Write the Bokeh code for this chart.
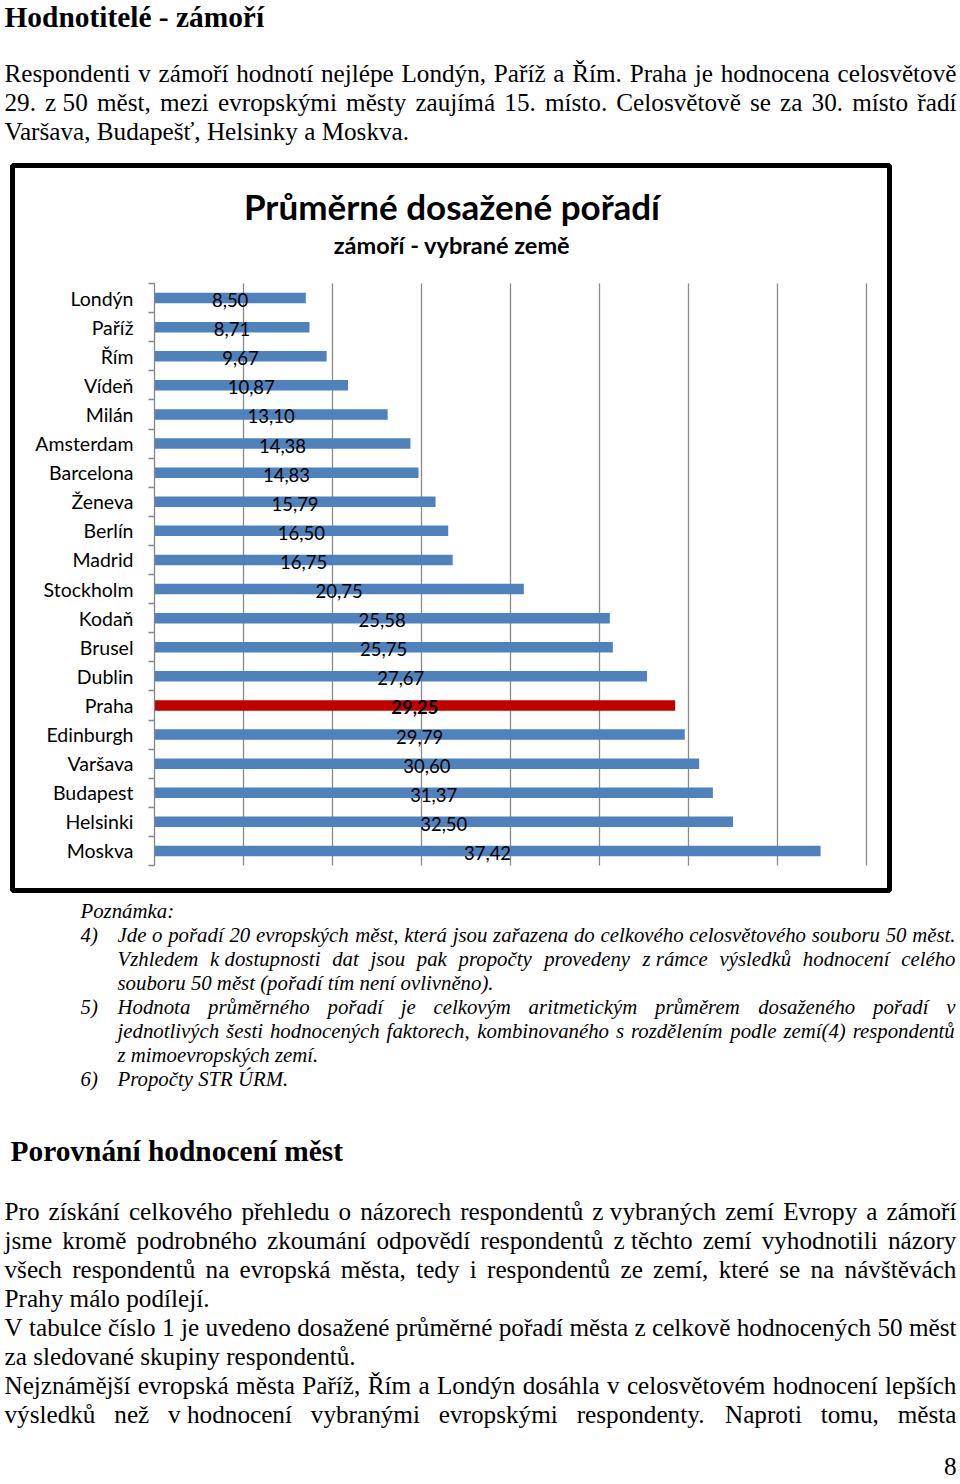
import unicodedata
from bokeh.plotting import figure
from bokeh.models import Range1d, LinearAxis, FixedTicker, ColumnDataSource
from bokeh.layouts import column
from bokeh.core.properties import value
from bokeh.embed import file_html
from bokeh.resources import INLINE

# ---------------- chart data ----------------
cities = ["Londýn", "Paříž", "Řím", "Vídeň", "Milán", "Amsterdam", "Barcelona",
          "Ženeva", "Berlín", "Madrid", "Stockholm", "Kodaň", "Brusel", "Dublin",
          "Praha", "Edinburgh", "Varšava", "Budapest", "Helsinki", "Moskva"]
ranks = [8.50, 8.71, 9.67, 10.87, 13.10, 14.38, 14.83, 15.79, 16.50, 16.75,
         20.75, 25.58, 25.75, 27.67, 29.25, 29.79, 30.60, 31.37, 32.50, 37.42]
highlight_city = "Praha"
chart_title = "Průměrné dosažené pořadí"
chart_subtitle = "zámoří - vybrané země"
grid_ticks = [5, 10, 15, 20, 25, 30, 35, 40]

# ---------------- page texts ----------------
page_heading = "Hodnotitelé - zámoří"
intro_lines = [
    ("Respondenti v zámoří hodnotí nejlépe Londýn, Paříž a Řím. Praha je hodnocena celosvětově", True),
    ("29. z\u00a050 měst, mezi evropskými městy zaujímá 15. místo. Celosvětově se za 30. místo řadí", True),
    ("Varšava, Budapešť, Helsinky a Moskva.", False),
]
note_title = "Poznámka:"
notes = [
    ("4)", [("Jde o pořadí 20 evropských měst, která jsou zařazena do celkového celosvětového souboru 50 měst.", True),
            ("Vzhledem k\u00a0dostupnosti dat jsou pak propočty provedeny z\u00a0rámce výsledků hodnocení celého", True),
            ("souboru 50 měst (pořadí tím není ovlivněno).", False)]),
    ("5)", [("Hodnota průměrného pořadí je celkovým aritmetickým průměrem dosaženého pořadí v", True),
            ("jednotlivých šesti hodnocených faktorech, kombinovaného s rozdělením podle zemí(4) respondentů", True),
            ("z mimoevropských zemí.", False)]),
    ("6)", [("Propočty STR ÚRM.", False)]),
]
section_heading = "Porovnání hodnocení měst"
body_lines = [
    ("Pro získání celkového přehledu o názorech respondentů z\u00a0vybraných zemí Evropy a zámoří", True),
    ("jsme kromě podrobného zkoumání odpovědí respondentů z\u00a0těchto zemí vyhodnotili názory", True),
    ("všech respondentů na evropská města, tedy i respondentů ze zemí, které se na návštěvách", True),
    ("Prahy málo podílejí.", False),
    ("V tabulce číslo 1 je uvedeno dosažené průměrné pořadí města z celkově hodnocených 50 měst", True),
    ("za sledované skupiny respondentů.", False),
    ("Nejznámější evropská města Paříž, Řím a Londýn dosáhla v celosvětovém hodnocení lepších", True),
    ("výsledků než v\u00a0hodnocení vybranými evropskými respondenty. Naproti tomu, města", True),
]
page_number = "8"

# ---------------- text metrics (Times / Liberation Serif) ----------------
TR = dict(a=444, b=500, c=444, d=500, e=444, f=333, g=500, h=500, i=278, j=278, k=500, l=278, m=778,
          n=500, o=500, p=500, q=500, r=333, s=389, t=278, u=500, v=500, w=722, x=500, y=500, z=444,
          A=722, B=667, C=667, D=722, E=611, F=556, G=722, H=722, I=333, J=389, K=722, L=611, M=889,
          N=722, O=722, P=556, Q=722, R=667, S=556, T=611, U=722, V=722, W=944, X=722, Y=722, Z=611)
TI = dict(a=500, b=500, c=444, d=500, e=444, f=278, g=500, h=500, i=278, j=278, k=444, l=278, m=722,
          n=500, o=500, p=500, q=500, r=389, s=389, t=278, u=500, v=444, w=667, x=444, y=444, z=389,
          A=611, B=611, C=667, D=722, E=611, F=611, G=722, H=722, I=333, J=444, K=667, L=556, M=833,
          N=667, O=722, P=611, Q=722, R=611, S=500, T=556, U=722, V=611, W=833, X=611, Y=556, Z=556)
PUNCT = {" ": 250, "\u00a0": 250, ".": 250, ",": 250, "(": 333, ")": 333, "-": 333, ":": 278}


def char_w(ch, style):
    if ch.isdigit():
        return 500
    base = unicodedata.normalize("NFD", ch)[0]
    table = TI if style == "italic" else TR
    if base in table:
        return table[base]
    if base == ":" and style == "italic":
        return 333
    return PUNCT.get(base, 333)


def text_w(s, style, size):
    return sum(char_w(c, style) for c in s) * size / 1000.0


def place_line(store, line, x0, x1, y, size, style, justify):
    if not justify:
        store.append((x0, y, line))
        return
    words = line.split(" ")
    widths = [text_w(w, style, size) for w in words]
    gap = (x1 - x0 - sum(widths)) / max(len(words) - 1, 1)
    gap = max(gap, 0.2 * size)
    x = x0
    for w, wd in zip(words, widths):
        store.append((x, y, w))
        x += wd + gap


SERIF = value("Liberation Serif")
SANS = value("Lato")


def add_texts(p, store, size, style, align="left"):
    if not store:
        return
    p.text(x=[s[0] for s in store], y=[s[1] for s in store], text=[s[2] for s in store],
           text_font=SERIF, text_font_size=f"{size}px", text_font_style=style,
           text_align=align, text_baseline="middle", text_color="black")


PAGE_W = 960


def no_align(p):
    if "frame_align" in p.properties():
        p.frame_align = False


def text_fig(top, bottom):
    p = figure(width=PAGE_W, height=bottom - top, x_range=Range1d(0, PAGE_W), y_range=Range1d(bottom, top),
               x_axis_location=None, y_axis_location=None, toolbar_location=None, title=None,
               output_backend="svg", min_border=0, outline_line_color=None,
               background_fill_color="white", border_fill_color="white")
    p.xgrid.visible = False
    p.ygrid.visible = False
    no_align(p)
    return p


BODY = 25.2
NOTE = 20.8
HEAD = 29.4

# ---------------- top text block ----------------
TOP_Y0, TOP_Y1 = 0, 161
top = text_fig(TOP_Y0, TOP_Y1)
add_texts(top, [(4, 16.5, page_heading)], HEAD, "bold")
store = []
for k, (ln, j) in enumerate(intro_lines):
    place_line(store, ln, 4, 956, 73 + 29 * k, BODY, "normal", j)
add_texts(top, store, BODY, "normal")

# ---------------- chart ----------------
CH_Y0, CH_Y1 = 161, 894
n = len(cities)
PX_PER_X = 17.8      # pixels per rank unit
X0_PAGE = 154        # page x of value 0
ROW_PX = 29.1        # pixels per category row
TOPROW_PAGE = 283    # page y of top category boundary
FRAME_L, FRAME_R, FRAME_T, FRAME_B = 12, 889, 165, 890


def px_x(page_x):
    return (page_x - X0_PAGE) / PX_PER_X


def px_y(page_y):
    return -0.5 + (page_y - TOPROW_PAGE) / ROW_PX


chart = figure(width=FRAME_R + 4, height=CH_Y1 - CH_Y0,
               x_range=Range1d(px_x(FRAME_L), px_x(FRAME_R)),
               y_range=Range1d(px_y(FRAME_B), px_y(FRAME_T)),
               x_axis_location=None, y_axis_location=None, toolbar_location=None, title=None,
               output_backend="svg",
               min_border_left=FRAME_L, min_border_right=4,
               min_border_top=FRAME_T - CH_Y0, min_border_bottom=CH_Y1 - FRAME_B,
               outline_line_color="black", outline_line_width=5,
               background_fill_color="white", border_fill_color="white")
chart.xgrid.visible = False
chart.ygrid.visible = False
no_align(chart)

src = ColumnDataSource(dict(
    idx=list(range(n)),
    rank=ranks,
    half=[r / 2 for r in ranks],
    label=[f"{r:.2f}".replace(".", ",") for r in ranks],
    color=["#C00000" if c == highlight_city else "#4F81BD" for c in cities],
    fstyle=["bold" if c == highlight_city else "normal" for c in cities],
))

chart.segment(x0=grid_ticks, x1=grid_ticks, y0=[-0.5] * len(grid_ticks), y1=[n - 0.5] * len(grid_ticks),
              line_color="#8a8a8a", line_width=1.3)
chart.hbar(y="idx", left=0, right="rank", height=0.36, fill_color="color", line_color=None, source=src)
chart.text(x="half", y="idx", text="label", source=src, text_font=SANS, text_font_size="18.5px",
           text_font_style="fstyle", text_align="center", text_baseline="middle", y_offset=2,
           text_color="black")

chart.text(x=[px_x(451.5)], y=[px_y(205)], text=[chart_title], text_font=SANS, text_font_size="35px",
           text_font_style="bold", text_align="center", text_baseline="middle", text_color="black")
chart.text(x=[px_x(451.5)], y=[px_y(244)], text=[chart_subtitle], text_font=SANS, text_font_size="23.5px",
           text_font_style="bold", text_align="center", text_baseline="middle", text_color="black")

yax = LinearAxis(
    ticker=FixedTicker(ticks=list(range(n)), minor_ticks=[i - 0.5 for i in range(n + 1)]),
    major_label_overrides={i: c for i, c in enumerate(cities)},
    fixed_location=0, bounds=(-0.5, n - 0.5),
    axis_line_color="#868686", axis_line_width=1.3,
    major_tick_line_color=None, major_tick_out=0, major_tick_in=0,
    minor_tick_line_color="#868686", minor_tick_line_width=1.3, minor_tick_out=6, minor_tick_in=0,
    major_label_standoff=15, major_label_text_font="Lato", major_label_text_font_size="19.5px",
    major_label_text_color="black",
)
chart.add_layout(yax, "left")

# ---------------- bottom text block ----------------
BOT_Y0, BOT_Y1 = 894, 1482
bot = text_fig(BOT_Y0, BOT_Y1)
ital = [(80, 910, note_title)]
line_y = 934
for num, lines in notes:
    ital.append((80, line_y, num))
    for ln, j in lines:
        place_line(ital, ln, 117, 955, line_y, NOTE, "italic", j)
        line_y += 24
add_texts(bot, ital, NOTE, "italic")
add_texts(bot, [(10, 1150, section_heading)], HEAD, "bold")
store = []
for k, (ln, j) in enumerate(body_lines):
    place_line(store, ln, 4, 956, 1211 + 29 * k, BODY, "normal", j)
add_texts(bot, store, BODY, "normal")
add_texts(bot, [(956, 1466, page_number)], BODY, "normal", align="right")

layout = column(top, chart, bot, spacing=0)
open("out.html", "w").write(file_html(layout, INLINE))
